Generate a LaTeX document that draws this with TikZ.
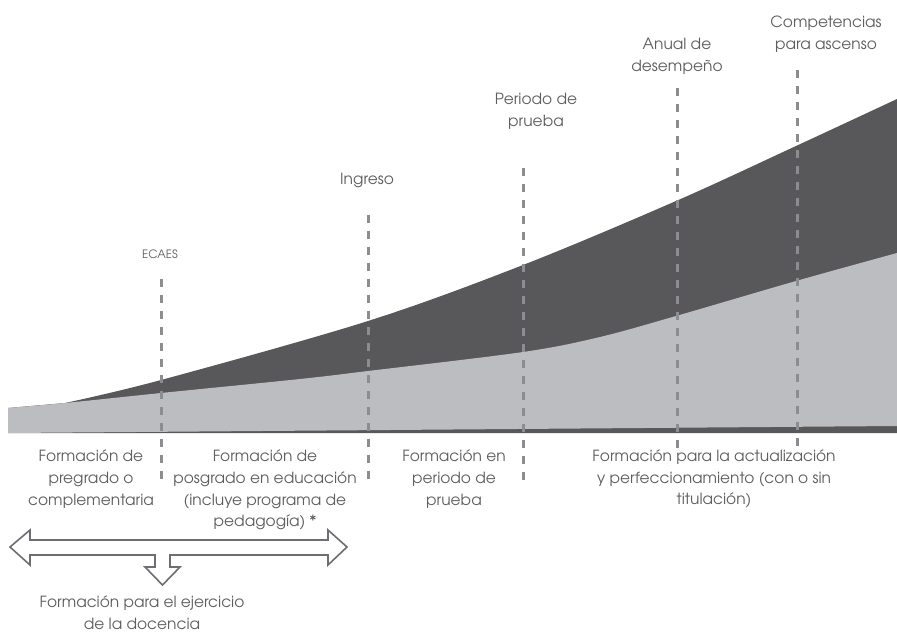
\documentclass[tikz,border=0pt]{standalone}
\usepackage{fontspec}
\setmainfont{texgyreadventor-regular.otf}
\definecolor{darkband}{HTML}{58585A}
\definecolor{lightband}{HTML}{BCBDC0}
\definecolor{guidegray}{HTML}{8C8D90}
\definecolor{txtgray}{HTML}{5E5E60}
\definecolor{arrowgray}{HTML}{6D6E71}
\begin{document}
\begin{tikzpicture}[x=1pt,y=-1pt,
  lbl/.style={text=txtgray, font=\fontsize{15.4}{21.8}\selectfont, align=center, inner sep=0pt},
  smalllbl/.style={text=txtgray, font=\fontsize{11.5}{12}\selectfont, inner sep=0pt},
  guide/.style={draw=guidegray, line width=3pt, dash pattern=on 8pt off 8pt},
  bigarrow/.style={draw=arrowgray, line width=1.6pt, fill=white, line join=miter},
  curve/.style={smooth, tension=0.55}]
\useasboundingbox (0,0) rectangle (897,632);

% dark region (upper band and bottom wedge)
\fill[darkband] plot[curve] coordinates {(65,403) (161,380) (368,321) (523,265) (676,201) (796,146) (897,99)}
  -- (897,433) -- (8,433) -- (8,408) -- cycle;
% light region
\fill[lightband] plot[curve] coordinates {(8,408) (65,403) (161,393) (300,379) (368,371) (523,352) (600,337) (676,316) (796,281) (897,253)}
  -- (897,426) -- (8,433) -- cycle;

% guides
\coordinate (g1t) at (161,279); \coordinate (g1b) at (161,484);
\coordinate (g2t) at (368,215); \coordinate (g2b) at (368,484);
\coordinate (g3t) at (523,168); \coordinate (g3b) at (523,484);
\coordinate (g4t) at (677,88);  \coordinate (g4b) at (677,448);
\coordinate (g5t) at (797,70);  \coordinate (g5b) at (797,448);
\foreach \g in {g1,g2,g3,g4,g5} \draw[guide] (\g t) -- (\g b);

% top labels
\node[smalllbl] (ecaes) at (160,254) {ECAES};
\node[lbl] (ingreso) at (367,180) {Ingreso};
\node[lbl] (prueba) at (536,111) {Periodo de\\prueba};
\node[lbl] (anual) at (677,56) {Anual de\\desempeño};
\node[lbl] (ascenso) at (826,34) {Competencias\\para ascenso};

% bottom labels
\node[lbl] (pregrado) at (91,479) {Formación de\\pregrado o\\complementaria};
\node[lbl] (posgrado) at (265,490) {Formación de\\posgrado en educación\\(incluye programa de\\pedagogía) *};
\node[lbl] (enprueba) at (454,479) {Formación en\\periodo de\\prueba};
\node[lbl] (actual) at (714,479) {Formación para la actualización\\y perfeccionamiento (con o sin\\titulación)};

% double arrow with downward branch
\draw[bigarrow] (10,547) -- (30,530) -- (30,540) -- (328,540) -- (328,530) -- (347,547)
  -- (328,565) -- (328,555) -- (170,555) -- (170,567) -- (180,567) -- (162.5,585)
  -- (145,567) -- (155,567) -- (155,555) -- (30,555) -- (30,565) -- cycle;

\node[lbl] (docencia) at (142,613) {Formación para el ejercicio\\de la docencia};
\end{tikzpicture}
\end{document}
